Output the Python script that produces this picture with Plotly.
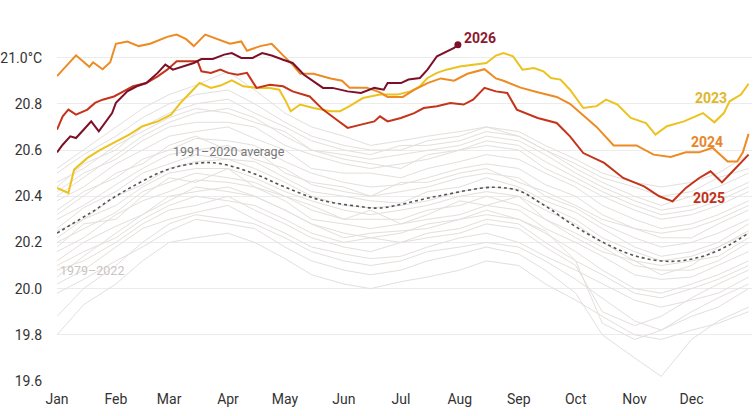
import plotly.graph_objects as go

# day-of-year positions for the month ticks
month_days = [1, 32, 60, 91, 121, 152, 182, 213, 244, 274, 305, 335]
month_names = ["Jan", "Feb", "Mar", "Apr", "May", "Jun", "Jul", "Aug", "Sep", "Oct", "Nov", "Dec"]

y_ticks = [19.6, 19.8, 20.0, 20.2, 20.4, 20.6, 20.8, 21.0]
y_labels = ["19.6", "19.8", "20.0", "20.2", "20.4", "20.6", "20.8", "21.0°C"]

# 1979-2022 background years (read roughly every two weeks)
grey_days = [1, 15, 32, 46, 60, 74, 91, 105, 121, 135, 152, 166, 182, 196, 213, 227, 244, 258, 274, 288, 305, 319, 335, 349, 365]
grey_series = [
    [19.80, 19.93, 20.02, 20.12, 20.20, 20.22, 20.24, 20.20, 20.13, 20.06, 20.02, 20.00, 20.03, 20.05, 20.08, 20.12, 20.10, 20.02, 19.95, 19.88, 19.80, 19.78, 19.82, 19.85, 19.90],
    [19.98, 20.04, 20.12, 20.18, 20.25, 20.30, 20.28, 20.26, 20.18, 20.12, 20.08, 20.06, 20.08, 20.12, 20.15, 20.18, 20.15, 20.08, 19.98, 19.80, 19.70, 19.62, 19.78, 19.86, 19.92],
    [20.02, 20.08, 20.18, 20.26, 20.30, 20.33, 20.36, 20.30, 20.24, 20.18, 20.15, 20.13, 20.14, 20.18, 20.22, 20.24, 20.20, 20.14, 20.08, 20.02, 19.95, 19.92, 19.95, 19.98, 20.05],
    [20.10, 20.16, 20.22, 20.30, 20.36, 20.40, 20.38, 20.36, 20.30, 20.24, 20.20, 20.22, 20.20, 20.24, 20.26, 20.30, 20.28, 20.20, 20.12, 20.06, 19.98, 19.96, 20.00, 20.04, 20.10],
    [20.12, 20.20, 20.27, 20.32, 20.40, 20.42, 20.44, 20.40, 20.34, 20.28, 20.22, 20.24, 20.25, 20.26, 20.30, 20.32, 20.30, 20.25, 20.12, 19.85, 19.78, 19.82, 19.90, 19.96, 20.02],
    [20.16, 20.22, 20.32, 20.38, 20.42, 20.47, 20.46, 20.44, 20.38, 20.30, 20.28, 20.26, 20.28, 20.30, 20.32, 20.36, 20.34, 20.26, 20.20, 20.14, 20.06, 20.04, 20.05, 20.10, 20.16],
    [20.20, 20.26, 20.33, 20.42, 20.46, 20.50, 20.48, 20.46, 20.40, 20.34, 20.30, 20.30, 20.30, 20.34, 20.36, 20.40, 20.36, 20.30, 20.24, 20.18, 20.10, 20.08, 20.08, 20.12, 20.20],
    [20.22, 20.30, 20.36, 20.44, 20.50, 20.52, 20.52, 20.48, 20.42, 20.38, 20.34, 20.32, 20.34, 20.36, 20.40, 20.42, 20.40, 20.34, 20.28, 20.20, 20.12, 20.10, 20.12, 20.14, 20.22],
    [20.25, 20.30, 20.40, 20.45, 20.52, 20.55, 20.56, 20.52, 20.46, 20.40, 20.36, 20.35, 20.36, 20.38, 20.42, 20.44, 20.43, 20.36, 20.30, 20.22, 20.16, 20.12, 20.14, 20.18, 20.25],
    [20.26, 20.35, 20.42, 20.50, 20.54, 20.58, 20.56, 20.55, 20.48, 20.42, 20.40, 20.38, 20.37, 20.42, 20.44, 20.48, 20.44, 20.38, 20.33, 20.26, 20.18, 20.14, 20.16, 20.20, 20.28],
    [20.30, 20.36, 20.45, 20.52, 20.58, 20.60, 20.62, 20.56, 20.52, 20.45, 20.42, 20.40, 20.42, 20.44, 20.48, 20.50, 20.48, 20.40, 20.35, 20.28, 20.22, 20.18, 20.20, 20.24, 20.30],
    [20.34, 20.42, 20.48, 20.56, 20.60, 20.65, 20.64, 20.62, 20.55, 20.50, 20.46, 20.44, 20.45, 20.48, 20.52, 20.54, 20.52, 20.45, 20.40, 20.32, 20.26, 20.22, 20.22, 20.28, 20.34],
    [20.38, 20.44, 20.54, 20.60, 20.66, 20.68, 20.70, 20.65, 20.60, 20.52, 20.50, 20.50, 20.48, 20.52, 20.55, 20.58, 20.56, 20.50, 20.44, 20.36, 20.30, 20.26, 20.28, 20.32, 20.38],
    [20.42, 20.50, 20.56, 20.64, 20.70, 20.72, 20.72, 20.70, 20.62, 20.58, 20.54, 20.52, 20.54, 20.56, 20.60, 20.62, 20.60, 20.52, 20.46, 20.40, 20.34, 20.30, 20.32, 20.36, 20.42],
    [20.46, 20.52, 20.62, 20.68, 20.74, 20.78, 20.76, 20.72, 20.68, 20.60, 20.58, 20.56, 20.58, 20.60, 20.62, 20.66, 20.64, 20.58, 20.50, 20.44, 20.38, 20.34, 20.36, 20.40, 20.46],
    [20.50, 20.58, 20.66, 20.74, 20.80, 20.84, 20.86, 20.80, 20.72, 20.66, 20.62, 20.60, 20.60, 20.64, 20.66, 20.70, 20.66, 20.60, 20.54, 20.48, 20.44, 20.40, 20.42, 20.48, 20.52],
    [20.52, 20.60, 20.70, 20.78, 20.84, 20.88, 20.94, 20.86, 20.76, 20.70, 20.66, 20.62, 20.64, 20.66, 20.68, 20.70, 20.68, 20.62, 20.56, 20.50, 20.46, 20.44, 20.46, 20.50, 20.58],
    [20.40, 20.48, 20.58, 20.66, 20.72, 20.76, 20.78, 20.74, 20.66, 20.60, 20.56, 20.54, 20.52, 20.58, 20.60, 20.64, 20.62, 20.55, 20.48, 20.42, 20.36, 20.32, 20.34, 20.38, 20.44],
    [19.88, 20.00, 20.10, 20.20, 20.28, 20.32, 20.30, 20.28, 20.22, 20.16, 20.12, 20.10, 20.12, 20.16, 20.18, 20.20, 20.18, 20.12, 20.04, 19.96, 19.86, 19.82, 19.88, 19.92, 20.00],
    [20.05, 20.14, 20.24, 20.32, 20.38, 20.44, 20.42, 20.40, 20.34, 20.28, 20.24, 20.22, 20.24, 20.28, 20.30, 20.34, 20.30, 20.24, 20.16, 20.08, 20.00, 19.98, 20.02, 20.06, 20.12],
    [20.18, 20.28, 20.30, 20.40, 20.48, 20.46, 20.52, 20.44, 20.40, 20.36, 20.30, 20.34, 20.28, 20.32, 20.38, 20.36, 20.40, 20.30, 20.22, 20.16, 20.12, 20.06, 20.10, 20.18, 20.24],
    [20.32, 20.40, 20.50, 20.54, 20.62, 20.66, 20.60, 20.60, 20.50, 20.46, 20.44, 20.40, 20.46, 20.46, 20.50, 20.52, 20.46, 20.42, 20.36, 20.30, 20.26, 20.24, 20.26, 20.30, 20.36],
    [20.08, 20.12, 20.20, 20.28, 20.34, 20.36, 20.40, 20.34, 20.28, 20.22, 20.18, 20.16, 20.20, 20.22, 20.24, 20.28, 20.26, 20.18, 20.10, 19.90, 19.84, 19.88, 19.96, 20.02, 20.08],
    [20.44, 20.54, 20.60, 20.70, 20.76, 20.80, 20.82, 20.76, 20.70, 20.64, 20.60, 20.58, 20.62, 20.62, 20.64, 20.68, 20.66, 20.60, 20.52, 20.46, 20.40, 20.36, 20.40, 20.44, 20.50],
]

# 1991-2020 average
avg_days = [1, 15, 21, 29, 41, 59, 76, 87, 104, 120, 139, 160, 171, 201, 231, 245, 254, 261, 271, 289, 306, 324, 341, 355, 365]
avg_vals = [20.24, 20.31, 20.34, 20.385, 20.443, 20.515, 20.544, 20.541, 20.50, 20.443, 20.385, 20.356, 20.349, 20.40, 20.439, 20.421, 20.378, 20.342, 20.284, 20.198, 20.14, 20.118, 20.14, 20.19, 20.241]

days_2023 = [1, 7, 10, 17, 24, 31, 39, 46, 54, 61, 66, 71, 76, 82, 87, 93, 99, 106, 113, 118, 121, 124, 129, 136, 145, 150, 155, 162, 171, 180, 187, 192, 196, 201, 206, 213, 220, 227, 232, 236, 241, 246, 252, 257, 261, 266, 271, 278, 285, 290, 296, 303, 311, 316, 322, 331, 341, 347, 352, 355, 361, 365]
vals_2023 = [20.436, 20.414, 20.515, 20.566, 20.602, 20.631, 20.667, 20.703, 20.724, 20.753, 20.804, 20.847, 20.89, 20.869, 20.879, 20.902, 20.876, 20.869, 20.869, 20.861, 20.818, 20.768, 20.797, 20.782, 20.768, 20.768, 20.79, 20.825, 20.84, 20.84, 20.854, 20.876, 20.912, 20.934, 20.948, 20.962, 20.97, 20.977, 21.009, 21.02, 21.006, 20.948, 20.955, 20.941, 20.912, 20.905, 20.861, 20.782, 20.79, 20.818, 20.797, 20.739, 20.717, 20.667, 20.703, 20.724, 20.76, 20.72, 20.76, 20.811, 20.84, 20.887]

days_2024 = [1, 11, 18, 20, 25, 29, 32, 38, 44, 50, 59, 64, 69, 73, 79, 85, 92, 98, 101, 108, 114, 120, 125, 129, 136, 145, 151, 155, 164, 171, 175, 183, 189, 196, 203, 210, 217, 226, 232, 236, 245, 254, 264, 271, 278, 285, 294, 306, 315, 324, 332, 339, 346, 354, 359, 362, 365]
vals_2024 = [20.92, 21.01, 20.96, 20.98, 20.95, 20.98, 21.06, 21.07, 21.05, 21.06, 21.09, 21.10, 21.08, 21.05, 21.10, 21.08, 21.06, 21.07, 21.03, 21.05, 21.06, 21.01, 20.97, 20.93, 20.93, 20.91, 20.90, 20.87, 20.87, 20.85, 20.83, 20.83, 20.86, 20.89, 20.91, 20.90, 20.93, 20.95, 20.91, 20.90, 20.87, 20.85, 20.83, 20.80, 20.75, 20.70, 20.62, 20.62, 20.58, 20.57, 20.59, 20.59, 20.61, 20.55, 20.55, 20.59, 20.67]

days_2025 = [1, 4, 7, 11, 17, 21, 25, 31, 36, 41, 48, 54, 59, 64, 70, 75, 77, 82, 87, 91, 96, 101, 106, 113, 120, 125, 134, 141, 148, 154, 161, 168, 171, 175, 182, 189, 194, 201, 208, 215, 220, 226, 232, 238, 243, 254, 264, 271, 278, 289, 299, 310, 318, 325, 332, 339, 345, 351, 355, 361, 365]
vals_2025 = [20.688, 20.746, 20.775, 20.753, 20.775, 20.804, 20.818, 20.832, 20.854, 20.876, 20.89, 20.919, 20.948, 20.984, 20.984, 20.984, 20.941, 20.934, 20.948, 20.934, 20.926, 20.934, 20.869, 20.883, 20.876, 20.854, 20.832, 20.775, 20.732, 20.696, 20.71, 20.724, 20.746, 20.724, 20.739, 20.76, 20.782, 20.79, 20.804, 20.797, 20.818, 20.869, 20.854, 20.847, 20.775, 20.739, 20.717, 20.659, 20.587, 20.544, 20.479, 20.443, 20.40, 20.378, 20.436, 20.479, 20.508, 20.46, 20.494, 20.544, 20.58]

days_2026 = [1, 4, 8, 11, 15, 19, 23, 26, 30, 32, 38, 43, 48, 54, 58, 62, 68, 73, 77, 83, 89, 93, 98, 104, 109, 114, 120, 125, 131, 136, 141, 146, 154, 161, 168, 173, 175, 182, 186, 192, 196, 201, 206, 210, 212]
vals_2026 = [20.59, 20.623, 20.659, 20.652, 20.688, 20.724, 20.681, 20.717, 20.76, 20.804, 20.854, 20.876, 20.89, 20.934, 20.97, 20.948, 20.962, 20.977, 20.994, 20.994, 21.013, 21.02, 20.999, 20.999, 21.02, 21.009, 20.991, 20.977, 20.926, 20.897, 20.869, 20.869, 20.854, 20.847, 20.869, 20.861, 20.89, 20.89, 20.905, 20.912, 20.948, 21.006, 21.027, 21.042, 21.056]

font_fam = "Roboto, sans-serif"

fig = go.Figure()

for vals in grey_series:
    fig.add_trace(go.Scatter(x=grey_days, y=vals, mode="lines",
                             line=dict(color="#e3dfdd", width=1)))

fig.add_trace(go.Scatter(x=avg_days, y=avg_vals, mode="lines", line_shape="spline",
                         line=dict(color="#555555", width=1.6, dash="dot")))

fig.add_trace(go.Scatter(x=days_2023, y=vals_2023, mode="lines", line=dict(color="#ecc21e", width=2)))
fig.add_trace(go.Scatter(x=days_2024, y=vals_2024, mode="lines", line=dict(color="#ee8a22", width=2)))
fig.add_trace(go.Scatter(x=days_2025, y=vals_2025, mode="lines", line=dict(color="#c5331a", width=2)))
fig.add_trace(go.Scatter(x=days_2026, y=vals_2026, mode="lines", line=dict(color="#7d0f28", width=2)))
fig.add_trace(go.Scatter(x=[days_2026[-1]], y=[vals_2026[-1]], mode="markers",
                         marker=dict(color="#7d0f28", size=7)))

labels = [
    ("2026", 214, 21.087, "#8b1a2e", True, 14),
    ("2023", 335.5, 20.827, "#e0b62a", True, 14),
    ("2024", 333.5, 20.636, "#e8852a", True, 14),
    ("2025", 334.5, 20.394, "#c0301a", True, 14),
    ("1991–2020 average", 61, 20.593, "#777777", False, 12.5),
    ("1979–2022", 1.5, 20.078, "#c8c4c2", False, 12.5),
]
for txt, x, y, col, bold, size in labels:
    fig.add_annotation(x=x, y=y, text=f"<b>{txt}</b>" if bold else txt, showarrow=False,
                       xanchor="left", yanchor="middle",
                       font=dict(family=font_fam, size=size, color=col))

fig.update_layout(
    width=754, height=416,
    margin=dict(l=57, r=2, t=23, b=35),
    paper_bgcolor="white", plot_bgcolor="white",
    showlegend=False,
    hovermode=False,
    font=dict(family=font_fam, size=14, color="#333333"),
    xaxis=dict(range=[1, 366.8], tickvals=month_days, ticktext=month_names,
               showgrid=False, zeroline=False, showline=False, ticks="",
               ticklabelstandoff=8),
    yaxis=dict(range=[19.6, 21.15], tickvals=y_ticks, ticktext=y_labels,
               showgrid=True, gridcolor="#ececec", gridwidth=1, zeroline=False,
               ticks="", ticklabelstandoff=14, automargin=False),
)

# drop the browser's default 8px body margin so the chart sits at the corner
fig.write_html("out.html", config={"displayModeBar": False},
               post_script="document.body.style.margin='0';")
